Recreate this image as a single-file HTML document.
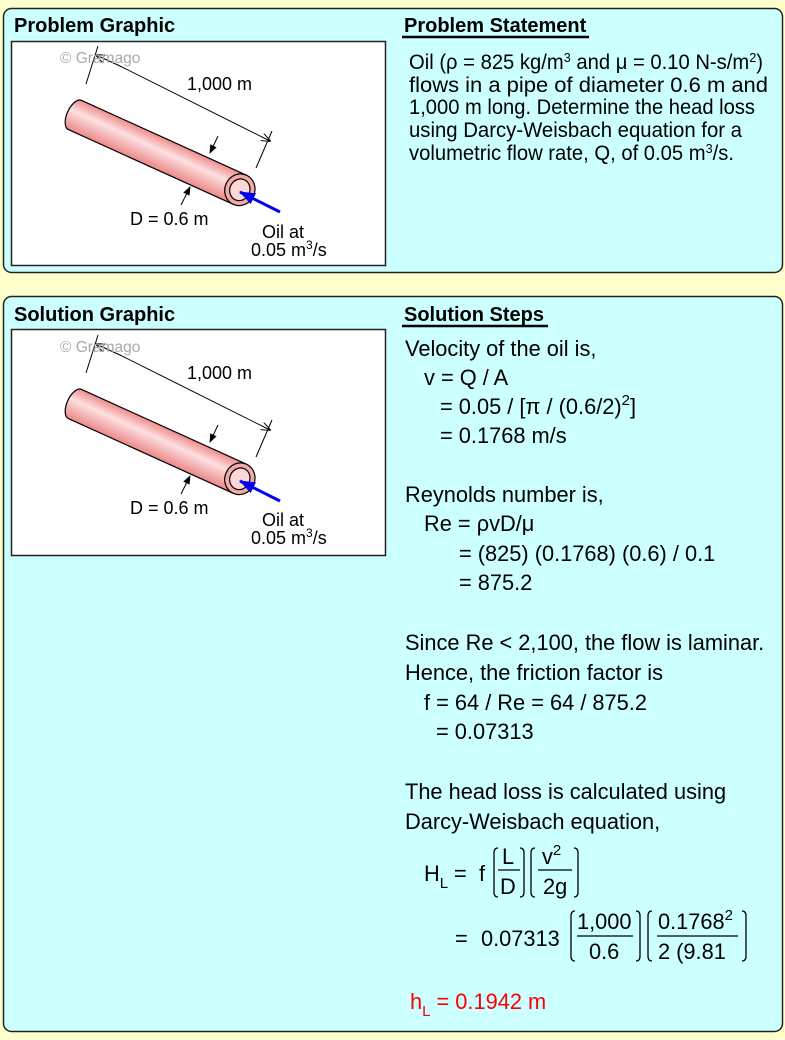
<!DOCTYPE html>
<html><head><meta charset="utf-8"><style>
html,body{margin:0;padding:0;background:#ffffcc;}
svg{display:block;font-family:"Liberation Sans",Arial,sans-serif;}
</style></head><body>
<svg width="785" height="1040" viewBox="0 0 785 1040" xmlns="http://www.w3.org/2000/svg">
<defs>
<linearGradient id="pg" x1="0" y1="0" x2="0" y2="1">
<stop offset="0" stop-color="#f08c8c"/><stop offset="0.4" stop-color="#fde0e0"/><stop offset="1" stop-color="#ec8888"/>
</linearGradient>
<marker id="ah" markerWidth="10" markerHeight="8" refX="9" refY="4" orient="auto" markerUnits="userSpaceOnUse"><path d="M0,0 L10,4 L0,8" fill="none" stroke="#000" stroke-width="1"/></marker>
<marker id="af" markerWidth="9" markerHeight="7" refX="8" refY="3.5" orient="auto" markerUnits="userSpaceOnUse"><path d="M0,0 L9,3.5 L0,7 z" fill="#000"/></marker>
<marker id="ab" markerWidth="16" markerHeight="12" refX="15" refY="6" orient="auto" markerUnits="userSpaceOnUse"><path d="M0,0 L16,6 L0,12 z" fill="#0000ee"/></marker>
<g id="pipe">
<g transform="translate(75,115) rotate(24.4)">
<path d="M0,-16 L181,-16 L181,16 L0,16 A8,16 0 0 1 0,-16 z" fill="url(#pg)" stroke="#000" stroke-width="1.2"/>
<ellipse cx="181" cy="0" rx="15" ry="16" fill="#f4a8a8" stroke="#000" stroke-width="1.2"/>
<ellipse cx="181" cy="0" rx="10" ry="11" fill="#fcd8d8" stroke="#000" stroke-width="1.2"/>
</g>
<line x1="86" y1="84" x2="98" y2="46" stroke="#000" stroke-width="1"/>
<line x1="256" y1="168" x2="272" y2="131" stroke="#000" stroke-width="1"/>
<line x1="120" y1="66" x2="96" y2="55" stroke="#000" stroke-width="1" marker-end="url(#ah)"/>
<line x1="120" y1="66" x2="270" y2="141" stroke="#000" stroke-width="1" marker-end="url(#ah)"/>
<line x1="218" y1="136" x2="210" y2="153" stroke="#000" stroke-width="1" marker-end="url(#af)"/>
<line x1="181" y1="205" x2="190" y2="187" stroke="#000" stroke-width="1" marker-end="url(#af)"/>
<line x1="280" y1="212" x2="240" y2="192" stroke="#0000ee" stroke-width="3" marker-end="url(#ab)"/>
</g>
</defs>

<!-- Panel 1 -->
<rect x="3.5" y="8.5" width="779" height="264" rx="8" fill="#ccffff" stroke="#222" stroke-width="1.5"/>
<text x="14" y="32" font-size="20" font-weight="bold">Problem Graphic</text>
<rect x="11.5" y="41.5" width="374" height="224" fill="#fff" stroke="#222" stroke-width="1.5"/>
<use href="#pipe"/>
<text x="60" y="63" font-size="15.5" fill="#aaa">© Gramago</text>
<text x="187" y="90" font-size="18">1,000 m</text>
<text x="130" y="225" font-size="18">D = 0.6 m</text>
<text x="262" y="238" font-size="18">Oil at</text>
<text x="251" y="256" font-size="18">0.05 m<tspan font-size="12" dy="-7">3</tspan><tspan dy="7">/s</tspan></text>

<text x="404" y="32" font-size="20" font-weight="bold">Problem Statement</text>
<line x1="402" y1="37" x2="589" y2="37" stroke="#000" stroke-width="2.5"/>
<g font-size="20.8">
<text x="409" y="69" textLength="354" lengthAdjust="spacingAndGlyphs">Oil (ρ = 825 kg/m<tspan font-size="13" dy="-7">3</tspan><tspan dy="7"> and μ = 0.10 N-s/m</tspan><tspan font-size="13" dy="-7">2</tspan><tspan dy="7">)</tspan></text>
<text x="409" y="92" textLength="359" lengthAdjust="spacingAndGlyphs">flows in a pipe of diameter 0.6 m and</text>
<text x="409" y="114" textLength="346" lengthAdjust="spacingAndGlyphs">1,000 m long. Determine the head loss</text>
<text x="409" y="137" textLength="333" lengthAdjust="spacingAndGlyphs">using Darcy-Weisbach equation for a</text>
<text x="409" y="160" textLength="325" lengthAdjust="spacingAndGlyphs">volumetric flow rate, Q, of 0.05 m<tspan font-size="13" dy="-7">3</tspan><tspan dy="7">/s.</tspan></text>
</g>

<!-- Panel 2 -->
<rect x="3.5" y="296.5" width="779" height="735" rx="8" fill="#ccffff" stroke="#222" stroke-width="1.5"/>
<text x="14" y="321" font-size="20" font-weight="bold">Solution Graphic</text>
<rect x="11.5" y="329.5" width="374" height="226" fill="#fff" stroke="#222" stroke-width="1.5"/>
<use href="#pipe" transform="translate(0,289)"/>
<text x="60" y="352" font-size="15.5" fill="#aaa">© Gramago</text>
<text x="187" y="379" font-size="18">1,000 m</text>
<text x="130" y="514" font-size="18">D = 0.6 m</text>
<text x="262" y="526" font-size="18">Oil at</text>
<text x="251" y="544" font-size="18">0.05 m<tspan font-size="12" dy="-7">3</tspan><tspan dy="7">/s</tspan></text>

<text x="404" y="321" font-size="20" font-weight="bold">Solution Steps</text>
<line x1="402" y1="326" x2="548" y2="326" stroke="#000" stroke-width="2.5"/>
<g font-size="21.8">
<text x="405" y="356">Velocity of the oil is,</text>
<text x="424" y="385">v = Q / A</text>
<text x="440" y="414">= 0.05 / [π / (0.6/2)<tspan font-size="15" dy="-9">2</tspan><tspan dy="9">]</tspan></text>
<text x="440" y="443">= 0.1768 m/s</text>
<text x="405" y="502">Reynolds number is,</text>
<text x="424" y="531">Re = ρvD/μ</text>
<text x="459" y="561">= (825) (0.1768) (0.6) / 0.1</text>
<text x="459" y="590">= 875.2</text>
<text x="405" y="650">Since Re &lt; 2,100, the flow is laminar.</text>
<text x="405" y="680">Hence, the friction factor is</text>
<text x="424" y="710">f = 64 / Re = 64 / 875.2</text>
<text x="436" y="739">= 0.07313</text>
<text x="405" y="799">The head loss is calculated using</text>
<text x="405" y="829">Darcy-Weisbach equation,</text>

<text x="424" y="881">H<tspan font-size="15" dy="7">L</tspan></text>
<text x="454" y="881">=</text>
<text x="479" y="881">f</text>
<text x="502" y="864">L</text>
<line x1="498" y1="870" x2="520" y2="870" stroke="#000" stroke-width="1.2"/>
<text x="500" y="894">D</text>
<text x="542" y="864">v<tspan font-size="15" dy="-9">2</tspan></text>
<line x1="538" y1="870" x2="572" y2="870" stroke="#000" stroke-width="1.2"/>
<text x="543" y="894">2g</text>

<text x="455" y="946">=</text>
<text x="481" y="946">0.07313</text>
<text x="577" y="929">1,000</text>
<line x1="577" y1="936" x2="633" y2="936" stroke="#000" stroke-width="1.2"/>
<text x="589" y="959">0.6</text>
<text x="658" y="929">0.1768<tspan font-size="15" dy="-9">2</tspan></text>
<line x1="657" y1="936" x2="738" y2="936" stroke="#000" stroke-width="1.2"/>
<text x="658" y="959">2 (9.81</text>
<text x="410" y="1009" fill="#ff0000">h<tspan font-size="15" dy="7">L</tspan><tspan dy="-7"> = 0.1942 m</tspan></text>
</g>
<g fill="none" stroke="#000" stroke-width="1.3">
<path d="M498,848 Q494,848 494,853 L494,892 Q494,897 498,897"/>
<path d="M520,848 Q524,848 524,853 L524,892 Q524,897 520,897"/>
<path d="M535,848 Q531,848 531,853 L531,892 Q531,897 535,897"/>
<path d="M574,848 Q578,848 578,853 L578,892 Q578,897 574,897"/>
<path d="M575,911 Q571,911 571,916 L571,956 Q571,961 575,961"/>
<path d="M636,911 Q640,911 640,916 L640,956 Q640,961 636,961"/>
<path d="M652,911 Q648,911 648,916 L648,956 Q648,961 652,961"/>
<path d="M742,911 Q746,911 746,916 L746,956 Q746,961 742,961"/>
</g>
</svg>
</body></html>
